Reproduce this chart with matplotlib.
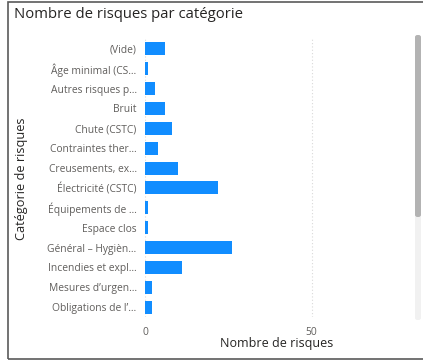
import matplotlib
matplotlib.use("Agg")
import matplotlib.pyplot as plt
from matplotlib.patches import Rectangle, FancyBboxPatch

# Risk categories (labels truncated as displayed) and their counts
categories = [
    "(Vide)",
    "Âge minimal (CS…",
    "Autres risques p…",
    "Bruit",
    "Chute (CSTC)",
    "Contraintes ther…",
    "Creusements, ex…",
    "Électricité (CSTC)",
    "Équipements de …",
    "Espace clos",
    "Général – Hygièn…",
    "Incendies et expl…",
    "Mesures d’urgen…",
    "Obligations de l’…",
]
counts = [6, 1, 3, 6, 8, 4, 10, 22, 1, 1, 26, 11, 2, 2]
x_ticks = [0, 50]

W, H = 423, 361
fig = plt.figure(figsize=(W / 100, H / 100), dpi=100)
fig.patch.set_facecolor("white")

FONT = ["Open Sans", "DejaVu Sans"]
BAR = "#118DFF"
TICK = "#605E5C"
DARK = "#252423"

def fx(px):
    return px / W

def fy(py):
    return 1 - py / H

# plot area in pixel coordinates
left, right, top, bottom = 145, 405, 39, 317
ax = fig.add_axes([fx(left), fy(bottom), fx(right - left), (bottom - top) / H])

y = list(range(len(categories)))
ax.barh(y, counts, height=0.65, color=BAR, zorder=3)
ax.set_ylim(len(categories) - 0.5, -0.5)
ax.set_xlim(0, 78)
ax.set_yticks(y)
ax.set_yticklabels(categories, fontsize=7.4, color=TICK, family=FONT)
ax.set_xticks(x_ticks)
ax.set_xticklabels([str(v) for v in x_ticks], fontsize=7.4, color=TICK, family=FONT)
ax.tick_params(length=0, pad=6)
ax.tick_params(axis="x", pad=7)
for s in ax.spines.values():
    s.set_visible(False)
ax.xaxis.grid(True, linestyle=(0, (1, 2)), color="#D9D9D9", linewidth=0.8, zorder=0)
ax.set_axisbelow(True)

# axis titles
fig.text(fx(277), fy(344), "Nombre de risques", ha="center", va="center",
         fontsize=9, color=DARK, family=FONT)
fig.text(fx(22), fy(179), "Catégorie de risques", ha="center", va="center",
         rotation=90, fontsize=9.2, color=DARK, family=FONT)

# visual title
fig.text(fx(14), fy(15), "Nombre de risques par catégorie", ha="left", va="center",
         fontsize=10.7, color=DARK, family=FONT)

# outer frame
fig.patches.append(Rectangle((fx(8), fy(359)), fx(W + 10 - 8), (359 - 2) / H,
                             transform=fig.transFigure, fill=False,
                             edgecolor="#5A5A5A", linewidth=1.2))

# scrollbar track and thumb
fig.patches.append(FancyBboxPatch((fx(415), fy(320)), fx(6), (320 - 35) / H,
                                  boxstyle="round,pad=0,rounding_size=0.006",
                                  transform=fig.transFigure,
                                  facecolor="#F1F1F1", edgecolor="none"))
fig.patches.append(FancyBboxPatch((fx(415), fy(217)), fx(6), (217 - 35) / H,
                                  boxstyle="round,pad=0,rounding_size=0.006",
                                  transform=fig.transFigure,
                                  facecolor="#B3B3B3", edgecolor="none"))

fig.savefig("out.png", dpi=100, facecolor="white")
